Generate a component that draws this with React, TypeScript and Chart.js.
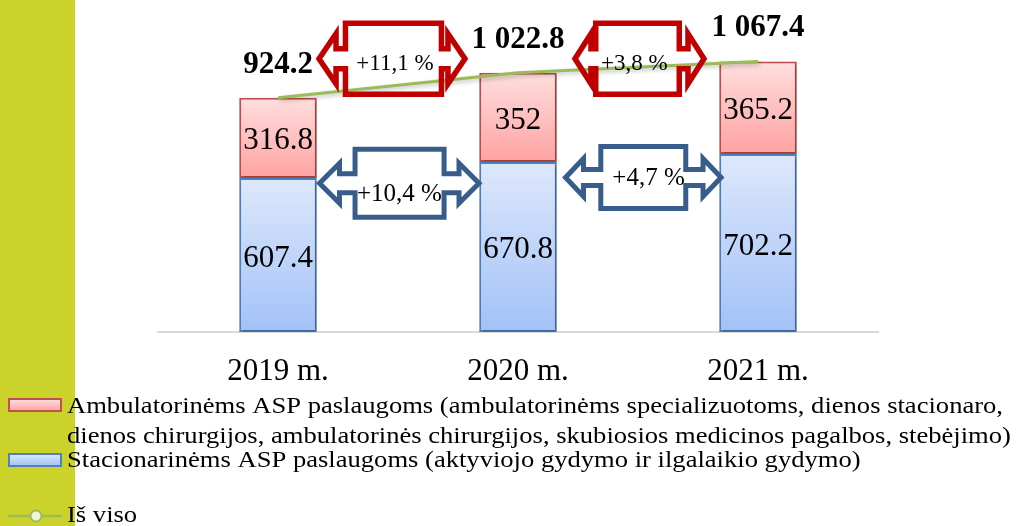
import React, { useEffect, useRef } from 'react';
import { Chart, registerables } from 'chart.js';

Chart.register(...registerables);

// ---------- data ----------
const CATEGORIES = ['2019 m.', '2020 m.', '2021 m.'];
const STACIONARINES = [607.4, 670.8, 702.2];
const AMBULATORINES = [316.8, 352, 365.2];
const IS_VISO = [924.2, 1022.8, 1067.4];
const TOTAL_LABELS = ['924.2', '1 022.8', '1 067.4'];
const AMB_CHANGE = ['+11,1 %', '+3,8 %'];
const STAC_CHANGE = ['+10,4 %', '+4,7 %'];
const AMB_LEGEND_LINES = [
  'Ambulatorinėms ASP paslaugoms (ambulatorinėms specializuotoms, dienos stacionaro,',
  'dienos chirurgijos, ambulatorinės chirurgijos, skubiosios medicinos pagalbos, stebėjimo)',
];
const STAC_LEGEND = 'Stacionarinėms ASP paslaugoms (aktyviojo gydymo ir ilgalaikio gydymo)';
const TOTAL_LEGEND = 'Iš viso';

// ---------- style ----------
const W = 1016;
const H = 526;
const SERIF = "'Liberation Serif', 'Times New Roman', serif";
const STRIPE = '#CBD32B';
const RED_TOP = '#FFDEDE';
const RED_BOTTOM = '#FFA2A2';
const RED_BORDER = '#C0504D';
const BLUE_TOP = '#DDE8FB';
const BLUE_BOTTOM = '#A3C1F8';
const BLUE_BORDER = '#4F81BD';
const LINE_COLOR = '#9BBB59';
const ARROW_RED = '#C00000';
const ARROW_BLUE = '#385D8A';
const LEGEND_TEXT_X = 67;
const LEGEND_LINE1_WIDTH = 936;

// arrow annotations: x in category-index units, y in value units
const ARROWS = [
  { text: AMB_CHANGE[0], color: ARROW_RED, lw: 5.5, from: 0.171, to: 0.779, boxFrom: 0.281, boxTo: 0.681, y: 1078, boxH: 35.5, shaftH: 10, headH: 25, headL: 17, labelX: 0.4875, labelY: 1033.5, fontSize: 23 },
  { text: AMB_CHANGE[1], color: ARROW_RED, lw: 5.5, from: 1.2375, to: 1.775, boxFrom: 1.324, boxTo: 1.672, y: 1078, boxH: 35.5, shaftH: 10, headH: 25, headL: 16, labelX: 1.485, labelY: 1035.5, fontSize: 23 },
  { text: STAC_CHANGE[0], color: ARROW_BLUE, lw: 5, from: 0.173, to: 0.8375, boxFrom: 0.321, boxTo: 0.692, y: 586.6, boxH: 34, shaftH: 9.5, headH: 20, headL: 20, labelX: 0.506, labelY: 518, fontSize: 25 },
  { text: STAC_CHANGE[1], color: ARROW_BLUE, lw: 5, from: 1.198, to: 1.846, boxFrom: 1.345, boxTo: 1.699, y: 609.5, boxH: 31, shaftH: 8, headH: 19, headL: 18, labelX: 1.544, labelY: 580, fontSize: 25 },
];

const gradientFill = (top: string, bottom: string, lower: number[] | null, vals: number[]) => (c: any) => {
  const chart = c.chart;
  const y = chart.scales && chart.scales.y;
  if (!y || c.dataIndex === undefined) return bottom;
  const i = c.dataIndex;
  const base = lower ? lower[i] : 0;
  const y0 = y.getPixelForValue(base + vals[i]);
  const y1 = y.getPixelForValue(base);
  if (!isFinite(y0) || !isFinite(y1) || y0 === y1) return bottom;
  const g = chart.ctx.createLinearGradient(0, y0, 0, y1);
  g.addColorStop(0, top);
  g.addColorStop(1, bottom);
  return g;
};

const stripePlugin = {
  id: 'stripe',
  beforeDraw(chart: any) {
    const ctx = chart.ctx;
    ctx.save();
    ctx.fillStyle = '#FFFFFF';
    ctx.fillRect(0, 0, W, H);
    ctx.fillStyle = STRIPE;
    ctx.fillRect(0, 0, 75, H);
    ctx.restore();
  },
};

const shadowPlugin = {
  id: 'shadow',
  beforeDatasetDraw(chart: any) {
    const ctx = chart.ctx;
    ctx.save();
    ctx.shadowColor = 'rgba(0,0,0,0.25)';
    ctx.shadowBlur = 4;
    ctx.shadowOffsetX = 2;
    ctx.shadowOffsetY = 2;
  },
  afterDatasetDraw(chart: any) {
    chart.ctx.restore();
  },
};

function drawArrow(ctx: CanvasRenderingContext2D, a: any, xs: any, ys: any) {
  const xl = xs.getPixelForValue(a.from);
  const xr = xs.getPixelForValue(a.to);
  const bl = xs.getPixelForValue(a.boxFrom);
  const br = xs.getPixelForValue(a.boxTo);
  const cy = ys.getPixelForValue(a.y);
  const { boxH: bh, shaftH: sh, headH: hh, headL: hl } = a;
  const pts: [number, number][] = [
    [xl, cy], [xl + hl, cy - hh], [xl + hl, cy - sh], [bl, cy - sh], [bl, cy - bh],
    [br, cy - bh], [br, cy - sh], [xr - hl, cy - sh], [xr - hl, cy - hh], [xr, cy],
    [xr - hl, cy + hh], [xr - hl, cy + sh], [br, cy + sh], [br, cy + bh], [bl, cy + bh],
    [bl, cy + sh], [xl + hl, cy + sh], [xl + hl, cy + hh],
  ];
  ctx.save();
  ctx.beginPath();
  pts.forEach(([x, y], i) => (i === 0 ? ctx.moveTo(x, y) : ctx.lineTo(x, y)));
  ctx.closePath();
  ctx.lineJoin = 'miter';
  ctx.miterLimit = 10;
  ctx.lineWidth = a.lw;
  ctx.strokeStyle = a.color;
  ctx.stroke();
  ctx.fillStyle = '#000';
  ctx.font = `${a.fontSize}px ${SERIF}`;
  ctx.textAlign = 'center';
  ctx.textBaseline = 'alphabetic';
  ctx.fillText(a.text, xs.getPixelForValue(a.labelX), ys.getPixelForValue(a.labelY));
  ctx.restore();
}

const annotationPlugin = {
  id: 'annotations',
  afterDatasetsDraw(chart: any) {
    const ctx = chart.ctx;
    const xs = chart.scales.x;
    const ys = chart.scales.y;
    ARROWS.forEach((a) => drawArrow(ctx, a, xs, ys));

    ctx.save();
    ctx.fillStyle = '#000';
    ctx.textAlign = 'center';
    ctx.textBaseline = 'alphabetic';
    // inner bar labels
    ctx.font = `31px ${SERIF}`;
    [1, 2].forEach((di) => {
      const meta = chart.getDatasetMeta(di);
      const vals = di === 1 ? STACIONARINES : AMBULATORINES;
      meta.data.forEach((el: any, i: number) => {
        const cy = (el.y + el.base) / 2;
        ctx.fillText(String(vals[i]), el.x, cy + 11.5);
      });
    });
    // totals
    ctx.font = `bold 31px ${SERIF}`;
    const lineMeta = chart.getDatasetMeta(0);
    lineMeta.data.forEach((p: any, i: number) => {
      ctx.fillText(TOTAL_LABELS[i], p.x, p.y - 25);
    });
    ctx.restore();
  },
};

const legendPlugin = {
  id: 'customLegend',
  afterDraw(chart: any) {
    const ctx = chart.ctx;
    ctx.save();
    const swatch = (y: number, top: string, bottom: string, border: string) => {
      const g = ctx.createLinearGradient(0, y, 0, y + 12);
      g.addColorStop(0, top);
      g.addColorStop(1, bottom);
      ctx.fillStyle = g;
      ctx.fillRect(9, y, 52, 12);
      ctx.lineWidth = 2;
      ctx.strokeStyle = border;
      ctx.strokeRect(9, y, 52, 12);
    };
    swatch(399, RED_TOP, RED_BOTTOM, RED_BORDER);
    swatch(454, BLUE_TOP, BLUE_BOTTOM, BLUE_BORDER);
    // line marker
    ctx.strokeStyle = LINE_COLOR;
    ctx.lineWidth = 2.5;
    ctx.beginPath();
    ctx.moveTo(8, 516);
    ctx.lineTo(62, 516);
    ctx.stroke();
    ctx.beginPath();
    ctx.arc(36, 516, 5.5, 0, Math.PI * 2);
    ctx.fillStyle = '#EEF5DC';
    ctx.fill();
    ctx.lineWidth = 2;
    ctx.stroke();

    ctx.fillStyle = '#000';
    ctx.font = `24px ${SERIF}`;
    ctx.textAlign = 'left';
    ctx.textBaseline = 'alphabetic';
    const sx = LEGEND_LINE1_WIDTH / ctx.measureText(AMB_LEGEND_LINES[0]).width;
    const line = (text: string, y: number) => {
      ctx.save();
      ctx.translate(LEGEND_TEXT_X, y);
      ctx.scale(sx, 1);
      ctx.fillText(text, 0, 0);
      ctx.restore();
    };
    line(AMB_LEGEND_LINES[0], 413);
    line(AMB_LEGEND_LINES[1], 443);
    line(STAC_LEGEND, 467);
    line(TOTAL_LEGEND, 522);
    ctx.restore();
  },
};

export default function App() {
  const ref = useRef<HTMLCanvasElement>(null);
  useEffect(() => {
    const canvas = ref.current;
    if (!canvas) return;
    const chart = new Chart(canvas, {
      data: {
        labels: CATEGORIES,
        datasets: [
          {
            type: 'line',
            label: TOTAL_LEGEND,
            data: IS_VISO,
            borderColor: LINE_COLOR,
            borderWidth: 3,
            pointRadius: 0,
            fill: false,
            order: 0,
            stack: 'total',
          } as any,
          {
            type: 'bar',
            label: STAC_LEGEND,
            data: STACIONARINES,
            backgroundColor: gradientFill(BLUE_TOP, BLUE_BOTTOM, null, STACIONARINES),
            borderColor: BLUE_BORDER,
            borderWidth: 2,
            borderSkipped: false,
            barPercentage: 0.323,
            categoryPercentage: 1,
            order: 1,
            stack: 'asp',
          } as any,
          {
            type: 'bar',
            label: AMB_LEGEND_LINES.join(' '),
            data: AMBULATORINES,
            backgroundColor: gradientFill(RED_TOP, RED_BOTTOM, STACIONARINES, AMBULATORINES),
            borderColor: RED_BORDER,
            borderWidth: 2,
            borderSkipped: false,
            barPercentage: 0.323,
            categoryPercentage: 1,
            order: 1,
            stack: 'asp',
          } as any,
        ],
      },
      options: {
        responsive: false,
        devicePixelRatio: 1,
        animation: false,
        layout: { padding: { left: 158, right: 138, top: 2.5, bottom: 134 } },
        plugins: { legend: { display: false }, tooltip: { enabled: false } },
        scales: {
          x: {
            stacked: true,
            grid: { display: false, drawTicks: false },
            border: { display: true, color: '#D9D9D9', width: 2 },
            ticks: {
              color: '#000',
              font: { family: SERIF, size: 31, lineHeight: 1 },
              padding: 24,
              maxRotation: 0,
              autoSkip: false,
            },
            afterFit: (s: any) => {
              s.height = 60;
            },
          },
          y: { stacked: true, display: false, min: 0, max: 1300 },
        },
      } as any,
      plugins: [stripePlugin, shadowPlugin, annotationPlugin, legendPlugin],
    });
    return () => chart.destroy();
  }, []);
  return (
    <div style={{ position: 'absolute', left: 0, top: 0, width: W, height: H, background: '#fff' }}>
      <canvas ref={ref} width={W} height={H} style={{ width: W, height: H, display: 'block' }} />
    </div>
  );
}
